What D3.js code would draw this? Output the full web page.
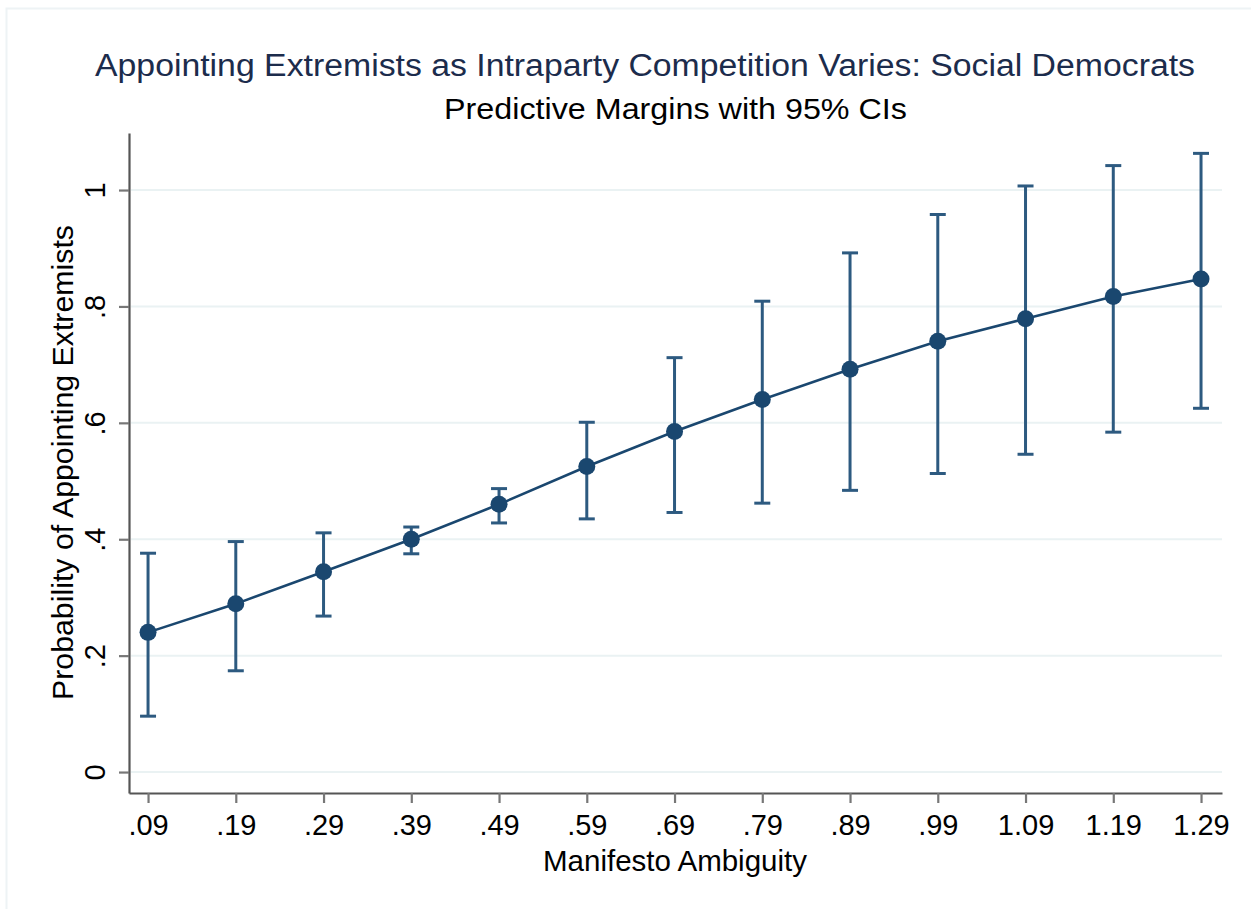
<!DOCTYPE html>
<html>
<head>
<meta charset="utf-8">
<script src="https://cdn.jsdelivr.net/npm/d3@7"></script>
<style>
  body { margin: 0; background: #fff; }
  text { font-family: "Liberation Sans", Arial, Helvetica, sans-serif; }
</style>
</head>
<body>
<div id="chart"></div>
<script>
const ambiguity = [0.09, 0.19, 0.29, 0.39, 0.49, 0.59, 0.69, 0.79, 0.89, 0.99, 1.09, 1.19, 1.29];
const margin = [0.240, 0.289, 0.344, 0.400, 0.460, 0.525, 0.585, 0.640, 0.692, 0.740, 0.779, 0.817, 0.847];
const ciLow  = [0.096, 0.174, 0.268, 0.375, 0.428, 0.435, 0.446, 0.462, 0.484, 0.513, 0.546, 0.584, 0.625];
const ciHigh = [0.376, 0.396, 0.411, 0.421, 0.487, 0.601, 0.712, 0.809, 0.892, 0.958, 1.007, 1.042, 1.063];
const xTickLabels = [".09", ".19", ".29", ".39", ".49", ".59", ".69", ".79", ".89", ".99", "1.09", "1.19", "1.29"];
const yTicks = [0, 0.2, 0.4, 0.6, 0.8, 1];
const yTickLabels = ["0", ".2", ".4", ".6", ".8", "1"];

const width = 1251, height = 909;
const plot = {left: 129, right: 1222, top: 133, bottom: 793};
const navy = "#1a476f";

const svg = d3.select("#chart").append("svg")
    .attr("width", width)
    .attr("height", height);

svg.append("rect")
    .attr("width", width).attr("height", height)
    .attr("fill", "#fff");

// faint outer frame of the graph region
svg.append("rect")
    .attr("x", 6.5).attr("y", 8.5)
    .attr("width", width + 20).attr("height", height + 20)
    .attr("fill", "none")
    .attr("stroke", "#eef3f5")
    .attr("stroke-width", 2);

const x = d3.scaleLinear()
    .domain([0.0683, 1.3139])
    .range([plot.left, plot.right]);

const y = d3.scaleLinear()
    .domain([-0.036, 1.098])
    .range([plot.bottom, plot.top]);

// gridlines
svg.append("g")
    .selectAll("line")
    .data(yTicks)
    .join("line")
    .attr("x1", plot.left + 2)
    .attr("x2", plot.right)
    .attr("y1", d => y(d))
    .attr("y2", d => y(d))
    .attr("stroke", "#eaf2f3")
    .attr("stroke-width", 2);

// x axis
const xAxis = svg.append("g")
    .attr("transform", `translate(0,${plot.bottom})`)
    .call(d3.axisBottom(x)
        .tickValues(ambiguity)
        .tickFormat((d, i) => xTickLabels[i])
        .tickSize(10)
        .tickSizeOuter(0)
        .tickPadding(8));

// y axis
const yAxis = svg.append("g")
    .attr("transform", `translate(${plot.left},0)`)
    .call(d3.axisLeft(y)
        .tickValues(yTicks)
        .tickFormat((d, i) => yTickLabels[i])
        .tickSize(10)
        .tickSizeOuter(0)
        .tickPadding(8));

[xAxis, yAxis].forEach(a => {
    a.select(".domain").attr("stroke", "#555").attr("stroke-width", 2.2);
    a.selectAll(".tick line").attr("stroke", "#777").attr("stroke-width", 2.2);
    a.selectAll(".tick text")
        .attr("fill", "#000")
        .style("font-size", "29px")
        .style("font-family", "'Liberation Sans', Arial, sans-serif");
});

xAxis.selectAll(".tick text").attr("dy", "0.83em");

yAxis.selectAll(".tick text")
    .attr("text-anchor", "middle")
    .attr("x", null)
    .attr("dy", null)
    .attr("transform", "translate(-24,0) rotate(-90)");

// confidence intervals
const ci = svg.append("g")
    .attr("stroke", "#2d5a80")
    .attr("stroke-width", 3);

ci.selectAll(".whisker")
    .data(ambiguity)
    .join("line")
    .attr("class", "whisker")
    .attr("x1", d => x(d)).attr("x2", d => x(d))
    .attr("y1", (d, i) => y(ciLow[i]))
    .attr("y2", (d, i) => y(ciHigh[i]));

ci.selectAll(".cap-lo")
    .data(ambiguity)
    .join("line")
    .attr("class", "cap-lo")
    .attr("x1", d => x(d) - 8).attr("x2", d => x(d) + 8)
    .attr("y1", (d, i) => y(ciLow[i]))
    .attr("y2", (d, i) => y(ciLow[i]));

ci.selectAll(".cap-hi")
    .data(ambiguity)
    .join("line")
    .attr("class", "cap-hi")
    .attr("x1", d => x(d) - 8).attr("x2", d => x(d) + 8)
    .attr("y1", (d, i) => y(ciHigh[i]))
    .attr("y2", (d, i) => y(ciHigh[i]));

// connecting line
const line = d3.line()
    .x(d => x(d))
    .y((d, i) => y(margin[i]));

svg.append("path")
    .datum(ambiguity)
    .attr("fill", "none")
    .attr("stroke", navy)
    .attr("stroke-width", 2.6)
    .attr("d", line);

svg.append("g")
    .selectAll("circle")
    .data(ambiguity)
    .join("circle")
    .attr("cx", d => x(d))
    .attr("cy", (d, i) => y(margin[i]))
    .attr("r", 8.5)
    .attr("fill", navy);

// titles (reference font is wider than Arial, so stretch to its measured widths)
svg.append("text")
    .attr("x", 95)
    .attr("y", 76)
    .attr("fill", "#1c2c4c")
    .attr("textLength", 1100)
    .attr("lengthAdjust", "spacingAndGlyphs")
    .style("font-size", "31px")
    .text("Appointing Extremists as Intraparty Competition Varies: Social Democrats");

svg.append("text")
    .attr("x", 444)
    .attr("y", 119)
    .attr("fill", "#000")
    .attr("textLength", 463)
    .attr("lengthAdjust", "spacingAndGlyphs")
    .style("font-size", "29px")
    .text("Predictive Margins with 95% CIs");

svg.append("text")
    .attr("x", 675)
    .attr("y", 871)
    .attr("text-anchor", "middle")
    .attr("fill", "#000")
    .style("font-size", "29.5px")
    .text("Manifesto Ambiguity");

svg.append("text")
    .attr("transform", `translate(73,700) rotate(-90)`)
    .attr("fill", "#000")
    .attr("textLength", 475)
    .attr("lengthAdjust", "spacingAndGlyphs")
    .style("font-size", "30px")
    .text("Probability of Appointing Extremists");
</script>
</body>
</html>
